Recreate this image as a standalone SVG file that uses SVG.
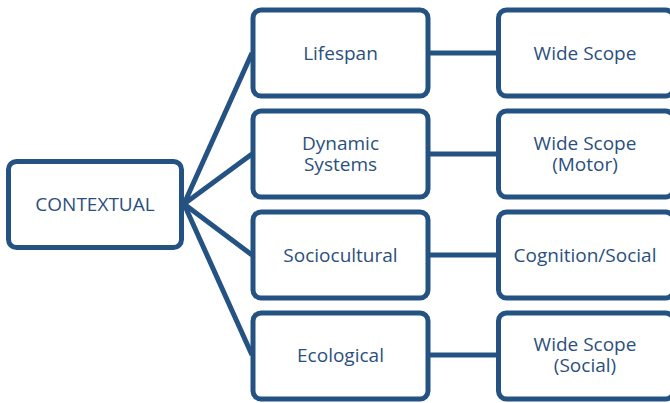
<svg xmlns="http://www.w3.org/2000/svg" width="670" height="403" viewBox="0 0 670 403">
<style>
.box{fill:#fff;stroke:#245283;stroke-width:5}
.ln{stroke:#245283;stroke-width:5;fill:none}
text{font-family:"Open Sans","Noto Sans",sans-serif;font-size:19px;fill:#2b4f7e;text-anchor:middle}
</style>
<rect width="670" height="403" fill="#fff"/>
<g id="connectors">
<line class="ln" x1="184" y1="204" x2="252" y2="53"/>
<line class="ln" x1="184" y1="204" x2="252" y2="154"/>
<line class="ln" x1="184" y1="204" x2="252" y2="255"/>
<line class="ln" x1="184" y1="204" x2="252" y2="355"/>
<line class="ln" x1="429" y1="53" x2="498" y2="53"/>
<line class="ln" x1="429" y1="154" x2="498" y2="154"/>
<line class="ln" x1="429" y1="255" x2="498" y2="255"/>
<line class="ln" x1="429" y1="355" x2="498" y2="355"/>
</g>
<g id="contextual"><rect class="box" x="8.5" y="161.5" width="173" height="86" rx="8"/><text x="95" y="211">CONTEXTUAL</text></g>
<g id="lifespan"><rect class="box" x="253" y="10" width="175" height="86" rx="8"/><text x="340.5" y="60">Lifespan</text></g>
<g id="dynamic"><rect class="box" x="253" y="111" width="175" height="86" rx="8"/><text x="340.5" y="150">Dynamic</text><text x="340.5" y="171">Systems</text></g>
<g id="sociocultural"><rect class="box" x="253" y="212" width="175" height="86" rx="8"/><text x="340.5" y="262">Sociocultural</text></g>
<g id="ecological"><rect class="box" x="253" y="313" width="175" height="86" rx="8"/><text x="340.5" y="362">Ecological</text></g>
<g id="widescope1"><rect class="box" x="498.5" y="10" width="175" height="86" rx="8"/><text x="585" y="60">Wide Scope</text></g>
<g id="widescope-motor"><rect class="box" x="498.5" y="111" width="175" height="86" rx="8"/><text x="585" y="150">Wide Scope</text><text x="585" y="171">(Motor)</text></g>
<g id="cognition-social"><rect class="box" x="498.5" y="212" width="175" height="86" rx="8"/><text x="585" y="262">Cognition/Social</text></g>
<g id="widescope-social"><rect class="box" x="498.5" y="313" width="175" height="86" rx="8"/><text x="585" y="351">Wide Scope</text><text x="585" y="372">(Social)</text></g>
</svg>
